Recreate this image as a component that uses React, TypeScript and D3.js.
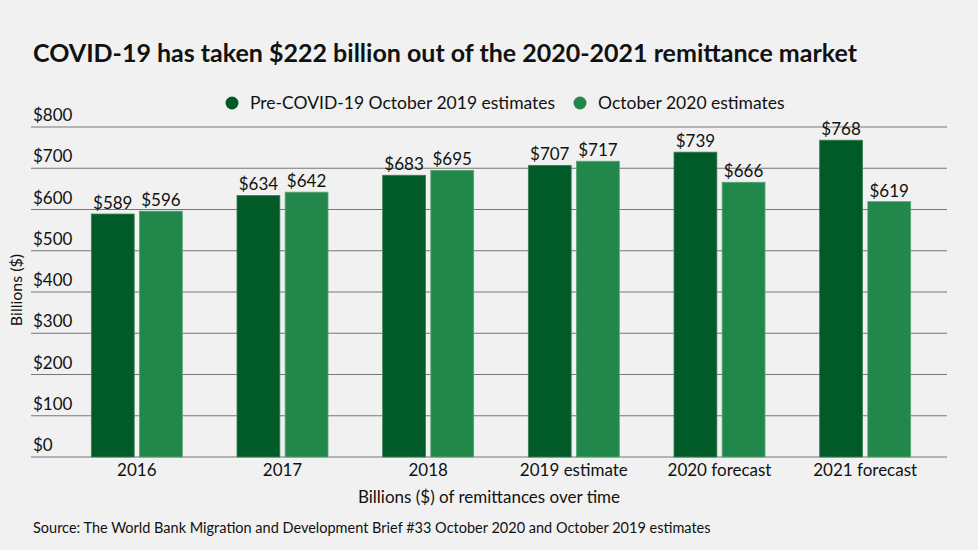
import React, { useRef, useEffect } from 'react';
import * as d3 from 'd3';

const categories = ['2016', '2017', '2018', '2019 estimate', '2020 forecast', '2021 forecast'];
const preCovid = [589, 634, 683, 707, 739, 768];
const october2020 = [596, 642, 695, 717, 666, 619];
const yTicks = [0, 100, 200, 300, 400, 500, 600, 700, 800];
const seriesNames = ['Pre-COVID-19 October 2019 estimates', 'October 2020 estimates'];
const seriesColors = ['#005b28', '#22874b'];

const W = 978;
const H = 550;
const FONT = 'Lato, "Open Sans", sans-serif';

const App: React.FC = () => {
  const svgRef = useRef<SVGSVGElement | null>(null);

  useEffect(() => {
    document.body.style.margin = '0';
    const svg = d3.select(svgRef.current!);
    svg.selectAll('*').remove();
    svg.attr('width', W).attr('height', H).style('display', 'block').style('font-family', FONT);

    svg.append('rect').attr('width', W).attr('height', H).attr('fill', '#f0f1f0');

    const y = d3.scaleLinear().domain([0, 800]).range([457, 127]);
    const x0 = d3.scaleBand<string>().domain(categories).range([64, 938]);
    const x1 = d3.scaleBand<string>().domain(seriesNames).range([0, 91]).paddingInner(0.11);
    const gridLeft = 31;
    const gridRight = 947;

    // title
    svg.append('text')
      .attr('x', 33).attr('y', 62)
      .attr('font-size', 25).attr('font-weight', 700).attr('fill', '#111')
      .text('COVID-19 has taken $222 billion out of the 2020-2021 remittance market');

    // gridlines + y labels
    const grid = svg.append('g');
    yTicks.forEach((t) => {
      grid.append('line')
        .attr('x1', gridLeft).attr('x2', gridRight)
        .attr('y1', y(t)).attr('y2', y(t))
        .attr('stroke', '#777').attr('stroke-width', 1);
      grid.append('text')
        .attr('x', 33).attr('y', y(t) - 6)
        .attr('font-size', 17).attr('fill', '#111')
        .text(`$${t}`);
    });

    // y title
    svg.append('text')
      .attr('transform', 'translate(22,290) rotate(-90)')
      .attr('text-anchor', 'middle')
      .attr('font-size', 16).attr('fill', '#111')
      .text('Billions ($)');

    // legend
    const legendX = [232, 580];
    seriesNames.forEach((name, i) => {
      svg.append('circle')
        .attr('cx', legendX[i]).attr('cy', 103).attr('r', 6.5)
        .attr('fill', seriesColors[i]);
      svg.append('text')
        .attr('x', legendX[i] + 18).attr('y', 109)
        .attr('font-size', 17.5).attr('fill', '#111')
        .text(name);
    });

    // bars
    const series = [preCovid, october2020];
    const groups = svg.append('g');
    categories.forEach((cat, ci) => {
      const g = groups.append('g').attr('transform', `translate(${x0(cat)! + x0.bandwidth() / 2 - 45.5},0)`);
      series.forEach((vals, si) => {
        const v = vals[ci];
        g.append('rect')
          .attr('x', x1(seriesNames[si])!)
          .attr('y', y(v))
          .attr('width', x1.bandwidth())
          .attr('height', y(0) - y(v))
          .attr('fill', seriesColors[si])
          .attr('stroke', si === 0 ? '#3f7d55' : '#5aa477')
          .attr('stroke-width', 0.8);
        g.append('text')
          .attr('x', x1(seriesNames[si])! + x1.bandwidth() / 2)
          .attr('y', y(v) - 5)
          .attr('text-anchor', 'middle')
          .attr('font-size', 17).attr('fill', '#111')
          .text(`$${v}`);
      });
      svg.append('text')
        .attr('x', x0(cat)! + x0.bandwidth() / 2)
        .attr('y', 476)
        .attr('text-anchor', 'middle')
        .attr('font-size', 17).attr('fill', '#111')
        .text(cat);
    });

    // x title
    svg.append('text')
      .attr('x', 489).attr('y', 503)
      .attr('text-anchor', 'middle')
      .attr('font-size', 17).attr('fill', '#111')
      .text('Billions ($) of remittances over time');

    // source
    svg.append('text')
      .attr('x', 33).attr('y', 533)
      .attr('font-size', 14.5).attr('fill', '#111')
      .text('Source: The World Bank Migration and Development Brief #33 October 2020 and October 2019 estimates');
  }, []);

  return <svg ref={svgRef}></svg>;
};

export default App;
